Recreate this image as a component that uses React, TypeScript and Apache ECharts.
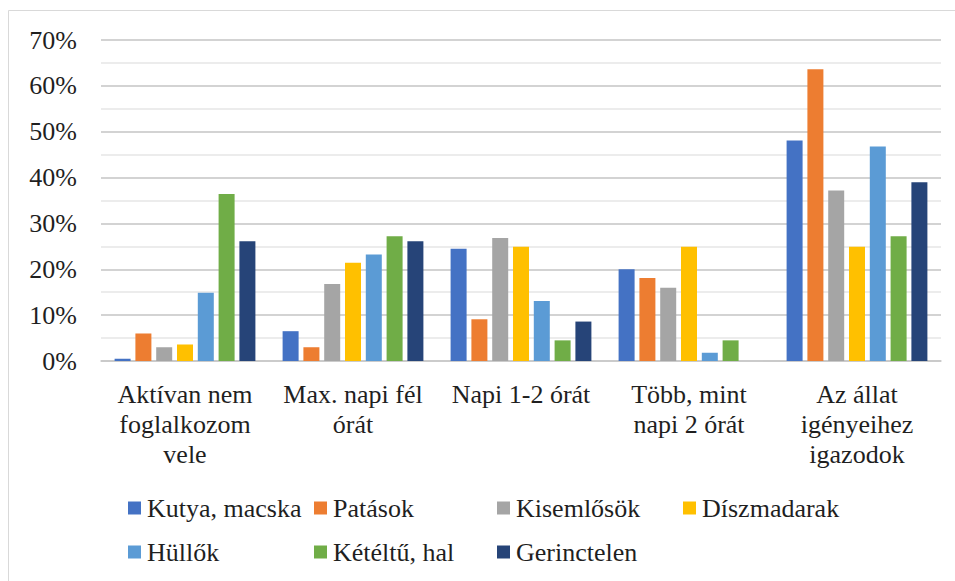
import React, { useEffect, useRef } from "react";
import * as echarts from "echarts";

const categories = [
  "Aktívan nem\nfoglalkozom\nvele",
  "Max. napi fél\nórát",
  "Napi 1-2 órát",
  "Több, mint\nnapi 2 órát",
  "Az állat\nigényeihez\nigazodok",
];

const seriesNames = [
  "Kutya, macska",
  "Patások",
  "Kisemlősök",
  "Díszmadarak",
  "Hüllők",
  "Kétéltű, hal",
  "Gerinctelen",
];

const kutyaMacska = [0.5, 6.5, 24.5, 20.0, 48.1];
const patasok = [6.0, 3.0, 9.1, 18.1, 63.6];
const kisemlosok = [3.0, 16.8, 26.8, 16.0, 37.2];
const diszmadarak = [3.6, 21.4, 24.9, 24.9, 24.9];
const hullok = [14.9, 23.2, 13.1, 1.8, 46.8];
const keteltuHal = [36.4, 27.2, 4.5, 4.5, 27.2];
const gerinctelen = [26.1, 26.1, 8.6, 0, 39.0];

const seriesValues = [kutyaMacska, patasok, kisemlosok, diszmadarak, hullok, keteltuHal, gerinctelen];

const colors = ["#4472C4", "#ED7D31", "#A5A5A5", "#FFC000", "#5B9BD5", "#70AD47", "#264478"];

const FONT = "'Times New Roman', 'Liberation Serif', 'DejaVu Serif', serif";
const TEXT_COLOR = "#1f1f1f";

const legendPos = [
  { left: 128, top: 495 },
  { left: 314, top: 495 },
  { left: 497, top: 495 },
  { left: 683, top: 495 },
  { left: 128, top: 539 },
  { left: 314, top: 539 },
  { left: 497, top: 539 },
];

export default function App() {
  const ref = useRef<HTMLDivElement>(null);

  useEffect(() => {
    document.body.style.margin = "0";
    if (!ref.current) return;
    const chart = echarts.init(ref.current, undefined, { renderer: "svg" });
    chart.setOption({
      animation: false,
      color: colors,
      textStyle: { fontFamily: FONT },
      graphic: [
        {
          type: "rect",
          shape: { x: 8.5, y: 10.5, width: 1000, height: 700 },
          style: { fill: "none", stroke: "#d9d9d9", lineWidth: 1 },
          silent: true,
        },
      ],
      legend: seriesNames.map((name, i) => ({
        data: [name],
        left: legendPos[i].left,
        top: legendPos[i].top,
        icon: "rect",
        itemWidth: 13,
        itemHeight: 13,
        padding: 0,
        selectedMode: false,
        textStyle: { fontFamily: FONT, fontSize: 26, color: TEXT_COLOR, padding: [0, 0, 0, 1] },
      })),
      grid: { left: 101, right: 14, top: 40, bottom: 220, containLabel: false },
      xAxis: {
        type: "category",
        data: categories,
        axisTick: { show: false },
        axisLine: { show: true, lineStyle: { color: "#c8c8c8", width: 1.5 } },
        axisLabel: {
          fontFamily: FONT,
          fontSize: 26,
          color: TEXT_COLOR,
          lineHeight: 30,
          margin: 18,
          interval: 0,
        },
      },
      yAxis: {
        type: "value",
        min: 0,
        max: 70,
        interval: 10,
        axisLine: { show: false },
        axisTick: { show: false },
        axisLabel: {
          formatter: "{value}%",
          fontFamily: FONT,
          fontSize: 26,
          color: TEXT_COLOR,
          margin: 24,
        },
        splitLine: { show: true, lineStyle: { color: "#c4c4c4", width: 1.5 } },
        minorTick: { show: false, splitNumber: 2 },
        minorSplitLine: { show: true, lineStyle: { color: "#e6e6e6", width: 1.5 } },
      },
      series: seriesNames.map((name, i) => ({
        name,
        type: "bar",
        data: seriesValues[i],
        barWidth: 16,
        barGap: "30%",
        itemStyle: { color: colors[i] },
      })),
    });
    return () => chart.dispose();
  }, []);

  return <div ref={ref} style={{ width: 955, height: 581 }} />;
}
